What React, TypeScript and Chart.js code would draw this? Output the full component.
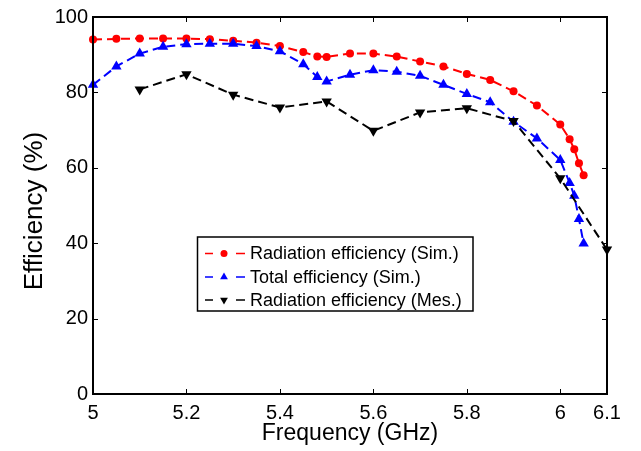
import React, { useEffect, useRef } from "react";
import { Chart, registerables } from "chart.js";
Chart.register(...registerables);

const simFreq = [5.0, 5.05, 5.1, 5.15, 5.2, 5.25, 5.3, 5.35, 5.4, 5.45, 5.48, 5.5, 5.55, 5.6, 5.65, 5.7, 5.75, 5.8, 5.85, 5.9, 5.95, 6.0, 6.02, 6.03, 6.04, 6.05];
const radSim = [94.0, 94.2, 94.3, 94.3, 94.3, 94.1, 93.7, 93.2, 92.3, 90.7, 89.5, 89.4, 90.3, 90.3, 89.5, 88.2, 86.9, 84.9, 83.3, 80.3, 76.5, 71.5, 67.6, 64.9, 61.2, 58.0];
const totSim = [82.0, 86.9, 90.3, 92.1, 92.8, 92.9, 92.9, 92.3, 90.9, 87.5, 84.1, 82.9, 84.7, 85.9, 85.5, 84.4, 82.0, 79.6, 77.4, 72.2, 67.8, 62.1, 56.0, 52.6, 46.4, 39.9];
const mesFreq = [5.1, 5.2, 5.3, 5.4, 5.5, 5.6, 5.7, 5.8, 5.9, 6.0, 6.1];
const radMes = [80.8, 84.8, 79.4, 76.0, 77.6, 69.8, 74.7, 75.8, 72.4, 57.2, 38.3];
const xTicks = [5, 5.2, 5.4, 5.6, 5.8, 6, 6.1];
const yTicks = [0, 20, 40, 60, 80, 100];
const seriesLabels = ["Radiation efficiency (Sim.)", "Total efficiency (Sim.)", "Radiation efficiency (Mes.)"];
const seriesColors = ["#ff0000", "#0000ff", "#000000"];
const xTitle = "Frequency (GHz)";
const yTitle = "Efficiency (%)";

const FONT = "'Liberation Sans', Arial, Helvetica, sans-serif";

function drawMarker(ctx: CanvasRenderingContext2D, kind: number, x: number, y: number, r: number, color: string) {
  ctx.save();
  ctx.fillStyle = color;
  ctx.beginPath();
  if (kind === 0) {
    ctx.arc(x, y, r, 0, Math.PI * 2);
  } else if (kind === 1) {
    ctx.moveTo(x, y - r);
    ctx.lineTo(x + r * 0.866, y + r * 0.5);
    ctx.lineTo(x - r * 0.866, y + r * 0.5);
    ctx.closePath();
  } else {
    ctx.moveTo(x, y + r);
    ctx.lineTo(x + r * 0.866, y - r * 0.5);
    ctx.lineTo(x - r * 0.866, y - r * 0.5);
    ctx.closePath();
  }
  ctx.fill();
  ctx.restore();
}

const framePlugin = {
  id: "frame",
  afterDraw(chart: any) {
    const { ctx, chartArea } = chart;
    const { left, right, top, bottom } = chartArea;
    const xs = chart.scales.x;
    const ys = chart.scales.y;
    ctx.save();
    ctx.strokeStyle = "#000";
    ctx.lineWidth = 2;
    ctx.strokeRect(left, top, right - left, bottom - top);
    ctx.lineWidth = 1;
    const tl = 5;
    ctx.beginPath();
    xTicks.forEach((v) => {
      const px = Math.round(xs.getPixelForValue(v)) + 0.5;
      ctx.moveTo(px, bottom);
      ctx.lineTo(px, bottom - tl);
      ctx.moveTo(px, top);
      ctx.lineTo(px, top + tl);
    });
    yTicks.forEach((v) => {
      const py = Math.round(ys.getPixelForValue(v)) + 0.5;
      ctx.moveTo(left, py);
      ctx.lineTo(left + tl, py);
      ctx.moveTo(right, py);
      ctx.lineTo(right - tl, py);
    });
    ctx.stroke();

    // axis titles
    ctx.fillStyle = "#000";
    ctx.font = `23px ${FONT}`;
    ctx.textAlign = "center";
    ctx.textBaseline = "alphabetic";
    ctx.fillText(xTitle, (left + right) / 2, 440);
    ctx.save();
    ctx.font = `26px ${FONT}`;
    ctx.translate(42, 211);
    ctx.rotate(-Math.PI / 2);
    ctx.fillText(yTitle, 0, 0);
    ctx.restore();

    // legend
    const bx = 197.5, by = 237, bw = 275.5, bh = 74;
    ctx.fillStyle = "#fff";
    ctx.fillRect(bx, by, bw, bh);
    ctx.lineWidth = 1.5;
    ctx.strokeStyle = "#000";
    ctx.strokeRect(bx, by, bw, bh);
    const rowsY = [253.5, 277, 300];
    ctx.font = `18px ${FONT}`;
    ctx.textAlign = "left";
    ctx.textBaseline = "middle";
    seriesLabels.forEach((lab, i) => {
      const y = rowsY[i];
      ctx.strokeStyle = seriesColors[i];
      ctx.lineWidth = 1.5;
      ctx.beginPath();
      ctx.moveTo(205, y);
      ctx.lineTo(213, y);
      ctx.moveTo(236, y);
      ctx.lineTo(245, y);
      ctx.stroke();
      drawMarker(ctx, i, 224, y, i === 0 ? 3.5 : 4.5, seriesColors[i]);
      ctx.fillStyle = "#000";
      ctx.fillText(lab, 250, y + 1);
    });
    ctx.restore();
  },
};

export default function App() {
  const ref = useRef<HTMLCanvasElement>(null);
  useEffect(() => {
    document.body.style.margin = "0";
    const canvas = ref.current!;
    const mk = (xs: number[], ys: number[]) => xs.map((x, i) => ({ x, y: ys[i] }));
    const chart = new Chart(canvas, {
      type: "line",
      data: {
        datasets: [
          {
            label: seriesLabels[0],
            data: mk(simFreq, radSim),
            borderColor: seriesColors[0],
            backgroundColor: seriesColors[0],
            borderWidth: 2,
            borderDash: [9, 5],
            pointStyle: "circle",
            pointRadius: 4,
            pointBorderWidth: 0,
            tension: 0,
            clip: false as any,
            order: 2,
          },
          {
            label: seriesLabels[1],
            data: mk(simFreq, totSim),
            borderColor: seriesColors[1],
            backgroundColor: seriesColors[1],
            borderWidth: 2,
            borderDash: [9, 5],
            pointStyle: "triangle",
            pointRadius: 6,
            pointBorderWidth: 0,
            tension: 0,
            clip: false as any,
            order: 1,
          },
          {
            label: seriesLabels[2],
            data: mk(mesFreq, radMes),
            borderColor: seriesColors[2],
            backgroundColor: seriesColors[2],
            borderWidth: 2,
            borderDash: [9, 5],
            pointStyle: "triangle",
            rotation: 180,
            pointRadius: 6,
            pointBorderWidth: 0,
            tension: 0,
            clip: false as any,
            order: 0,
          },
        ],
      },
      options: {
        responsive: false,
        animation: false,
        devicePixelRatio: 1,
        layout: { padding: { top: 12, right: 34, left: 0, bottom: 0 } },
        plugins: { legend: { display: false }, tooltip: { enabled: false } },
        scales: {
          x: {
            type: "linear",
            min: 5,
            max: 6.1,
            grid: { display: false, drawTicks: false },
            border: { display: false },
            afterBuildTicks: (s: any) => {
              s.ticks = xTicks.map((v) => ({ value: v }));
            },
            afterFit: (s: any) => {
              s.height = 57;
            },
            ticks: {
              autoSkip: false,
              maxRotation: 0,
              padding: 7,
              color: "#000",
              font: { family: FONT, size: 20 },
              callback: (v: any) => String(Number(v)),
            },
          },
          y: {
            type: "linear",
            min: 0,
            max: 100,
            grid: { display: false, drawTicks: false },
            border: { display: false },
            afterBuildTicks: (s: any) => {
              s.ticks = yTicks.map((v) => ({ value: v }));
            },
            afterFit: (s: any) => {
              s.width = 93;
            },
            ticks: {
              padding: 5,
              color: "#000",
              font: { family: FONT, size: 20 },
              callback: (v: any) => String(Number(v)),
            },
          },
        },
      },
      plugins: [framePlugin],
    });
    return () => chart.destroy();
  }, []);
  return <canvas ref={ref} width={641} height={451} style={{ display: "block" }} />;
}
